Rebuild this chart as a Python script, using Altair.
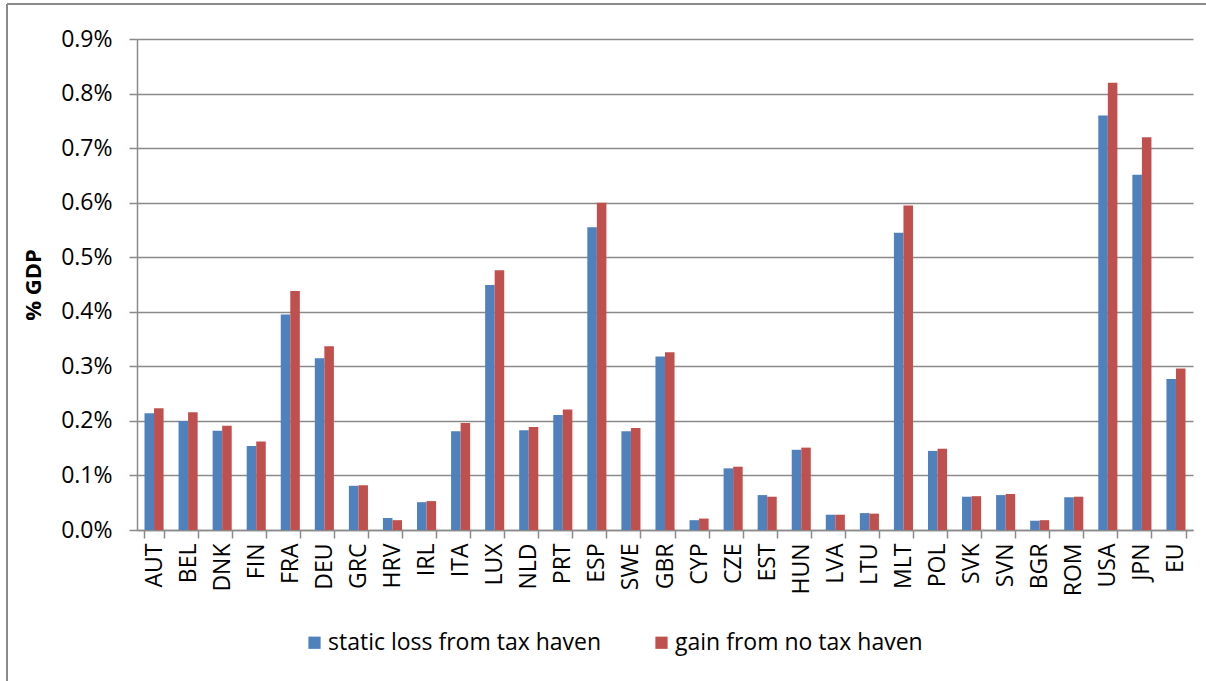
import altair as alt
import pandas as pd

# Countries / aggregates on the category axis
countries = ["AUT", "BEL", "DNK", "FIN", "FRA", "DEU", "GRC", "HRV", "IRL", "ITA",
             "LUX", "NLD", "PRT", "ESP", "SWE", "GBR", "CYP", "CZE", "EST", "HUN",
             "LVA", "LTU", "MLT", "POL", "SVK", "SVN", "BGR", "ROM", "USA", "JPN", "EU"]

# Values in % of GDP
static_loss = [0.214, 0.200, 0.182, 0.154, 0.395, 0.315, 0.081, 0.022, 0.051, 0.181,
               0.449, 0.183, 0.211, 0.555, 0.181, 0.318, 0.018, 0.113, 0.064, 0.147,
               0.028, 0.031, 0.545, 0.145, 0.061, 0.064, 0.017, 0.060, 0.760, 0.651, 0.277]
gain_no_haven = [0.223, 0.216, 0.191, 0.162, 0.438, 0.337, 0.082, 0.018, 0.053, 0.196,
                 0.476, 0.189, 0.221, 0.600, 0.187, 0.326, 0.021, 0.116, 0.061, 0.151,
                 0.028, 0.030, 0.595, 0.149, 0.062, 0.066, 0.018, 0.061, 0.820, 0.720, 0.296]

series_names = ["static loss from tax haven", "gain from no tax haven"]
series_colors = ["#4F81BD", "#C0504D"]
y_ticks = [0.0, 0.1, 0.2, 0.3, 0.4, 0.5, 0.6, 0.7, 0.8, 0.9]

rows = []
for i, c in enumerate(countries):
    rows.append({"country": c, "series": series_names[0], "value": static_loss[i]})
    rows.append({"country": c, "series": series_names[1], "value": gain_no_haven[i]})
df = pd.DataFrame(rows)

FONT = "Open Sans"
GRID = "#8a8a8a"

bars = alt.Chart(df).mark_bar().encode(
    x=alt.X("country:N", sort=countries, title=None,
            scale=alt.Scale(paddingInner=0.44, paddingOuter=0.22),
            axis=alt.Axis(labelAngle=-90, labelFontSize=23, labelFont=FONT,
                          labelColor="black", tickBand="extent", tickSize=8,
                          tickColor=GRID, tickWidth=1.5, domainColor=GRID,
                          domainWidth=1.5, labelPadding=5, grid=False)),
    xOffset=alt.XOffset("series:N", sort=series_names,
                        scale=alt.Scale(paddingInner=0, paddingOuter=0)),
    y=alt.Y("value:Q", title="% GDP",
            scale=alt.Scale(domain=[0, 0.9], nice=False),
            axis=alt.Axis(values=y_ticks,
                          labelExpr="format(datum.value, '.1f') + '%'",
                          labelFontSize=23, labelFont=FONT, labelColor="black",
                          labelPadding=17, tickSize=8, tickColor=GRID, tickWidth=1.5,
                          domainColor=GRID, domainWidth=1.5,
                          grid=True, gridColor=GRID, gridWidth=1.5,
                          titleFont=FONT, titleFontSize=22, titleFontWeight="bold",
                          titleColor="black", titlePadding=15)),
    color=alt.Color("series:N", sort=series_names,
                    scale=alt.Scale(domain=series_names, range=series_colors),
                    legend=alt.Legend(title=None, orient="none", direction="horizontal",
                                      legendX=166, legendY=592,
                                      symbolType="square", symbolSize=150,
                                      symbolStrokeWidth=0, labelFont=FONT,
                                      labelFontSize=23, labelColor="black",
                                      labelOffset=2, columnPadding=48,
                                      labelLimit=400)),
)

# Outer frame around the whole figure
frame_src = alt.Data(values=[{"k": 0}])
frame_left = alt.Chart(frame_src).mark_rule(color="#8a8a8a", strokeWidth=2).encode(
    x=alt.value(-130), y=alt.value(-35), y2=alt.value(700))
frame_top = alt.Chart(frame_src).mark_rule(color="#8a8a8a", strokeWidth=2).encode(
    x=alt.value(-130), x2=alt.value(1100), y=alt.value(-35))

chart = alt.layer(bars, frame_left, frame_top).properties(
    width=1056, height=491,
    padding={"left": 137, "top": 39, "right": 13, "bottom": 151},
    autosize=alt.AutoSizeParams(type="none"),
    background="white",
).configure_view(stroke=None)

chart.save("out.html", embed_options={"renderer": "svg", "actions": False})
